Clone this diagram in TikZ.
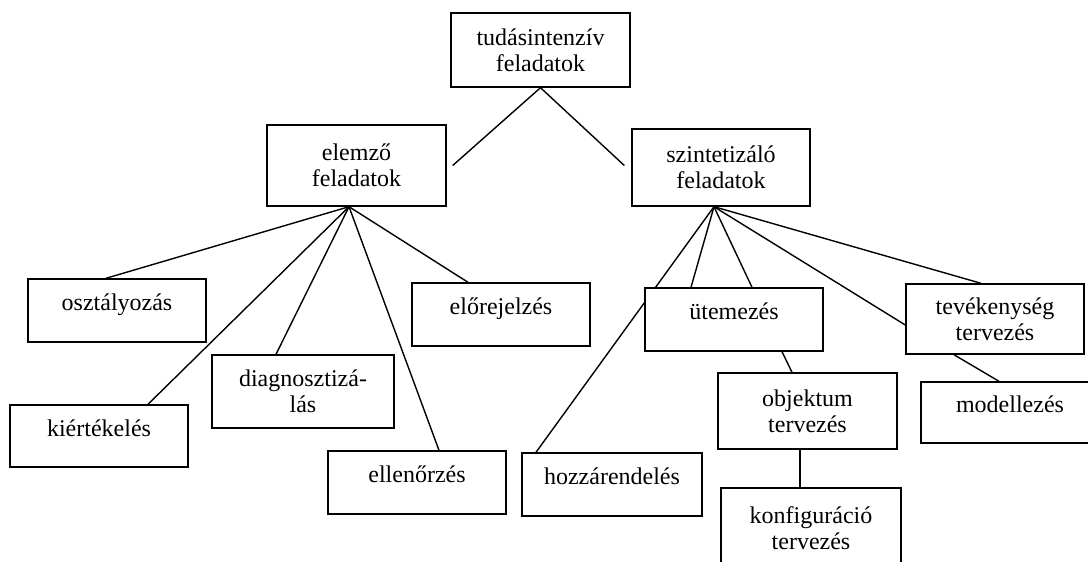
\documentclass[tikz,border=0pt]{standalone}
\usepackage{fontspec}
\setmainfont{Liberation Serif}
\usetikzlibrary{backgrounds}
\begin{document}
\begin{tikzpicture}[x=1pt,y=-1pt,
  box/.style={draw, line width=1.4pt, fill=white, inner sep=0pt, align=center,
    font=\fontsize{24}{26}\selectfont},
  single/.style={box, text height=17pt, text depth=17pt},
  link/.style={line width=1.4pt}]
\useasboundingbox (0,0) rectangle (1088,562);

% root and the two main branches
\node[box, minimum width=179pt, minimum height=74pt] (root) at (540.5,50) {tudásintenzív\\feladatok};
\node[box, minimum width=179pt, minimum height=81pt] (elemzo) at (356.5,165.5) {elemző\\feladatok};
\node[box, minimum width=178pt, minimum height=77pt] (szint) at (721,167.5) {szintetizáló\\feladatok};

% analytic tasks
\node[single, minimum width=178pt, minimum height=63pt] (oszt) at (117,310.5) {osztályozás};
\node[single, minimum width=178pt, minimum height=62pt] (kiert) at (99,436) {kiértékelés};
\node[box, minimum width=182pt, minimum height=73pt] (diag) at (303,391.5) {diagnosztizá-\\lás};
\node[single, minimum width=178pt, minimum height=63pt] (ellen) at (417,482.5) {ellenőrzés};
\node[single, minimum width=178pt, minimum height=63pt] (elore) at (501,314.5) {előrejelzés};

% synthetic tasks
\node[single, minimum width=180pt, minimum height=63pt] (hozza) at (612,484.5) {hozzárendelés};
\node[single, minimum width=178pt, minimum height=63pt] (utem) at (734,319.5) {ütemezés};
\node[box, minimum width=179pt, minimum height=76pt] (objekt) at (807.5,411) {objektum\\tervezés};
\node[box, minimum width=180pt, minimum height=80pt] (konf) at (811,528) {konfiguráció\\tervezés};
\node[box, minimum width=178pt, minimum height=70pt] (tev) at (995,319) {tevékenység\\tervezés};
\node[single, minimum width=178pt, minimum height=61pt] (model) at (1010,412.5) {modellezés};

% hubs where the branch lines meet
\coordinate (eh) at ([xshift=-7.5pt]elemzo.south);
\coordinate (sh) at ([xshift=-7pt]szint.south);

\begin{scope}[on background layer]
\draw[link] (root.south) -- ([xshift=6pt]elemzo.east);
\draw[link] (root.south) -- ([xshift=-7pt,yshift=2pt]szint.west);

\draw[link] (eh) -- ([xshift=-11pt]oszt.north);
\draw[link] (eh) -- ([xshift=49pt]kiert.north);
\draw[link] (eh) -- ([xshift=-27pt]diag.north);
\draw[link] (eh) -- ([xshift=22pt]ellen.north);
\draw[link] (eh) -- ([xshift=-33pt]elore.north);

\draw[link] (sh) -- ([xshift=-76pt]hozza.north);
\draw[link] (sh) -- ([xshift=-43pt]utem.north);
\draw[link] (sh) -- ([xshift=18pt]utem.north);
\draw[link] (sh) -- ([yshift=-6pt]tev.west);
\draw[link] (sh) -- ([xshift=-14pt]tev.north);

\draw[link] ([xshift=48pt]utem.south) -- ([xshift=-15.5pt]objekt.north);
\draw[link] ([xshift=-7.5pt]objekt.south) -- ([xshift=-11pt]konf.north);
\draw[link] ([xshift=-41pt]tev.south) -- ([xshift=-11pt]model.north);
\end{scope}
\end{tikzpicture}
\end{document}
